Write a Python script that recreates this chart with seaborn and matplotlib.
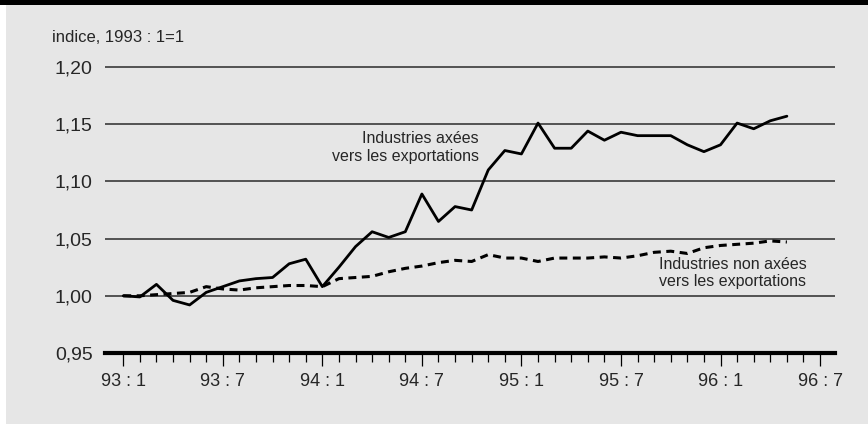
import matplotlib.pyplot as plt
import matplotlib.patches as patches
import pandas as pd
import seaborn as sns

# Monthly index (1993:1 = 1), 1993:1 to 1996:5
export_values = [
    1.000, 0.999, 1.010, 0.996, 0.992, 1.003, 1.008, 1.013, 1.015, 1.016, 1.028, 1.032,
    1.008, 1.025, 1.043, 1.056, 1.051, 1.056, 1.089, 1.065, 1.078, 1.075, 1.110, 1.127,
    1.124, 1.151, 1.129, 1.129, 1.144, 1.136, 1.143, 1.140, 1.140, 1.140, 1.132, 1.126,
    1.132, 1.151, 1.146, 1.153, 1.157,
]
non_export_values = [
    1.000, 1.000, 1.001, 1.002, 1.003, 1.008, 1.006, 1.005, 1.007, 1.008, 1.009, 1.009,
    1.008, 1.015, 1.016, 1.017, 1.021, 1.024, 1.026, 1.029, 1.031, 1.030, 1.036, 1.033,
    1.033, 1.030, 1.033, 1.033, 1.033, 1.034, 1.033, 1.035, 1.038, 1.039, 1.037, 1.042,
    1.044, 1.045, 1.046, 1.048, 1.047,
]
tick_labels = ["93 : 1", "93 : 7", "94 : 1", "94 : 7", "95 : 1", "95 : 7", "96 : 1", "96 : 7"]
y_ticks = [0.95, 1.00, 1.05, 1.10, 1.15, 1.20]
y_labels = ["0,95", "1,00", "1,05", "1,10", "1,15", "1,20"]

df = pd.DataFrame({
    "month": list(range(len(export_values))),
    "export": export_values,
    "non_export": non_export_values,
})

sns.set_style("white")
plt.rcParams["font.family"] = ["Liberation Sans", "DejaVu Sans"]

W, H = 868, 424
fig = plt.figure(figsize=(W / 100, H / 100), dpi=100, facecolor="#e6e6e6")
# white strip on the left, black bar on top
fig.patches.append(patches.Rectangle((0, 0), 6 / W, 1, transform=fig.transFigure,
                                     facecolor="white", edgecolor="none", zorder=0))
fig.patches.append(patches.Rectangle((0, 1 - 5 / H), 1, 5 / H, transform=fig.transFigure,
                                     facecolor="black", edgecolor="none", zorder=0))

y_top = 1.203
top_px = 67 - (y_top - 1.20) / (0.05 / 57)
ax = fig.add_axes([105 / W, 1 - 353 / H, (835 - 105) / W, (353 - top_px) / H])
ax.set_facecolor("none")

sns.lineplot(data=df, x="month", y="export", ax=ax, color="black", linewidth=2.0)
sns.lineplot(data=df, x="month", y="non_export", ax=ax, color="black", linewidth=2.2,
             linestyle=(0, (2.6, 1.8)))

ax.set_xlim(-1.1, 42.9)
ax.set_ylim(0.95, y_top)
ax.set_xlabel("")
ax.set_ylabel("")

ax.set_xticks(range(0, 43, 6))
ax.set_xticklabels(tick_labels, fontsize=13)
ax.set_xticks(range(0, 43), minor=True)
ax.tick_params(axis="x", which="major", direction="out", length=9.5, width=0.9, color="black",
               pad=5, bottom=True)
ax.tick_params(axis="x", which="minor", direction="out", length=6.5, width=0.9, color="black",
               bottom=True)

ax.set_yticks(y_ticks)
ax.set_yticklabels(y_labels, fontsize=14)
ax.tick_params(axis="y", length=0, pad=9)
for y in y_ticks[1:]:
    ax.axhline(y, color="#3a3a3a", linewidth=1.2, zorder=0)

for side in ["top", "right", "left"]:
    ax.spines[side].set_visible(False)
ax.spines["bottom"].set_linewidth(3)
ax.spines["bottom"].set_color("black")

ax.text(21.45, 1.1438, "Industries axées\nvers les exportations", ha="right", va="top",
        fontsize=11.5)
ax.text(32.3, 1.034, "Industries non axées\nvers les exportations", ha="left", va="top",
        fontsize=11.5)

fig.text(52 / W, 1 - 42 / H, "indice, 1993 : 1=1", ha="left", va="baseline", fontsize=12)

fig.savefig("out.png", dpi=100, facecolor=fig.get_facecolor())
